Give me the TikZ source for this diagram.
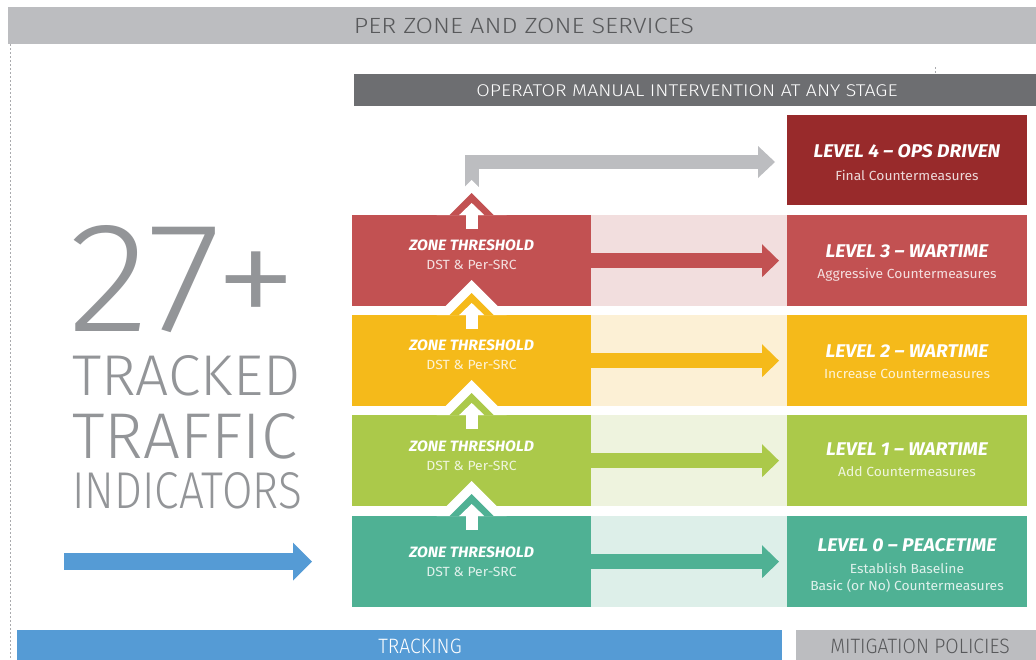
\documentclass[tikz,border=0pt]{standalone}
\usepackage{fontspec}
\setmainfont{Fira Sans}[FakeStretch=1.05]
\newfontfamily\lightfont{Fira Sans Light}[FakeStretch=1.15]
\newfontfamily\condfont{Fira Sans Light}[FakeStretch=0.93]
\usepackage{tikz}
\usetikzlibrary{positioning,arrows.meta}

\definecolor{bargray}{HTML}{BCBDC0}
\definecolor{textgray}{HTML}{58595B}
\definecolor{opgray}{HTML}{6D6E71}
\definecolor{numgray}{HTML}{939598}
\definecolor{lvfour}{HTML}{982A2B}
\definecolor{lvthree}{HTML}{C25152}
\definecolor{lvthreel}{HTML}{F2DEDE}
\definecolor{lvtwo}{HTML}{F5BA1A}
\definecolor{lvtwol}{HTML}{FCF0D5}
\definecolor{lvone}{HTML}{ABC94A}
\definecolor{lvonel}{HTML}{EEF3DE}
\definecolor{lvzero}{HTML}{4FB194}
\definecolor{lvzerol}{HTML}{DDEFE9}
\definecolor{trackblue}{HTML}{559BD5}

\tikzset{
	box/.style={draw=none, anchor=north west, inner sep=0pt, minimum height=91pt},
	zonebox/.style={box, minimum width=239pt},
	band/.style={box, minimum width=196pt},
	levelbox/.style={box, minimum width=240pt},
	bar/.style={draw=none, anchor=north west, inner sep=0pt},
	zonetitle/.style={text=white, inner sep=0pt, font=\fontsize{15}{15}\selectfont\bfseries\itshape},
	zonesub/.style={text=white, text opacity=0.82, inner sep=0pt, font=\fontsize{13.3}{13.3}\selectfont},
	leveltitle/.style={text=white, inner sep=0pt, font=\fontsize{18.4}{18.4}\selectfont\bfseries\itshape},
	levelsub/.style={text=white, text opacity=0.82, inner sep=0pt, font=\fontsize{13.2}{13.2}\selectfont},
	bartext/.style={inner sep=0pt, font=\condfont\fontsize{20.8}{20.8}\selectfont},
	bignum/.style={anchor=north west, inner sep=0pt, text=numgray, font=\lightfont},
	rowarrow/.style={line width=15pt, -{Triangle[length=17pt, width=33pt, line width=0pt]}},
	uparrow/.style={draw=white, line width=12pt, -{Triangle[length=12pt, width=25pt, line width=0pt]}}
}

\begin{document}
\begin{tikzpicture}[x=1pt, y=-1pt]
	\useasboundingbox (0,0) rectangle (1036,659);

	\node [bar, fill=bargray, minimum width=1028pt, minimum height=37pt] (top) at (8,7) {};
	\node [bartext, text=textgray, font=\lightfont\fontsize{22}{22}\selectfont] (topt) at (524,26) {PER ZONE AND ZONE SERVICES};
	\node [bar, fill=opgray, minimum width=682pt, minimum height=32pt] (ops) at (354,74) {};
	\node [bartext, text=white, font=\lightfont\fontsize{17}{17}\selectfont] (opst) at (687,90.5) {OPERATOR MANUAL INTERVENTION AT ANY STAGE};
	\node [bar, fill=trackblue, minimum width=765pt, minimum height=30pt] (trk) at (17,630) {};
	\node [bartext, text=white] (trkt) at (420,646) {TRACKING};
	\node [bar, fill=bargray, minimum width=240pt, minimum height=30pt] (mit) at (796,630) {};
	\node [bartext, text=textgray] (mitt) at (920,646) {MITIGATION POLICIES};

	\draw [numgray!80, line width=0.8pt, dash pattern=on 2pt off 2pt] (10,44) -- (10,659);
	\draw [numgray!80, line width=0.8pt, dash pattern=on 2pt off 2pt] (935,67) -- (935,74);

	\node [bignum] (num) at (68,225) {\resizebox{229pt}{106pt}{27+}};
	\node [bignum] (trk1) at (72,355) {\resizebox{228pt}{40pt}{TRACKED}};
	\node [bignum] (trk2) at (72,413) {\resizebox{225pt}{45pt}{TRAFFIC}};
	\node [bignum] (trk3) at (72,472) {\resizebox{230pt}{36pt}{INDICATORS}};

	\node [levelbox, fill=lvfour, minimum height=90pt] (L4) at (787,115) {};
	\node [zonebox, fill=lvthree] (Z3) at (352,215) {};
	\node [band, fill=lvthreel] (B3) at (591,215) {};
	\node [levelbox, fill=lvthree] (L3) at (787,215) {};
	\node [zonebox, fill=lvtwo] (Z2) at (352,315) {};
	\node [band, fill=lvtwol] (B2) at (591,315) {};
	\node [levelbox, fill=lvtwo] (L2) at (787,315) {};
	\node [zonebox, fill=lvone] (Z1) at (352,415) {};
	\node [band, fill=lvonel] (B1) at (591,415) {};
	\node [levelbox, fill=lvone] (L1) at (787,415) {};
	\node [zonebox, fill=lvzero] (Z0) at (352,516) {};
	\node [band, fill=lvzerol] (B0) at (591,516) {};
	\node [levelbox, fill=lvzero] (L0) at (787,516) {};

	\coordinate (G0) at (471.5,196);
	\coordinate (G1) at (775,162);
	\path [draw=bargray, line join=miter, line width=14pt, -{Triangle[length=17pt, width=32pt, line width=0pt]}] (G0) |- (G1);

	\fill [white] ([xshift=-35pt]Z3.north) -- ([yshift=35pt]Z3.north) -- ([xshift=35pt]Z3.north) -- cycle;
	\fill [lvthree] ([xshift=-22pt]Z3.north) -- ([yshift=22pt]Z3.north) -- ([xshift=22pt]Z3.north) -- cycle;
	\fill [white] ([xshift=-35pt]Z2.north) -- ([yshift=35pt]Z2.north) -- ([xshift=35pt]Z2.north) -- cycle;
	\fill [lvtwo] ([xshift=-22pt]Z2.north) -- ([yshift=22pt]Z2.north) -- ([xshift=22pt]Z2.north) -- cycle;
	\fill [white] ([xshift=-35pt]Z1.north) -- ([yshift=35pt]Z1.north) -- ([xshift=35pt]Z1.north) -- cycle;
	\fill [lvone] ([xshift=-22pt]Z1.north) -- ([yshift=22pt]Z1.north) -- ([xshift=22pt]Z1.north) -- cycle;
	\fill [white] ([xshift=-35pt]Z0.north) -- ([yshift=35pt]Z0.north) -- ([xshift=35pt]Z0.north) -- cycle;
	\fill [lvzero] ([xshift=-22pt]Z0.north) -- ([yshift=22pt]Z0.north) -- ([xshift=22pt]Z0.north) -- cycle;

	\path [uparrow] ([yshift=-14pt]Z3.north) -- ([yshift=12pt]Z3.north);
	\path [uparrow] ([yshift=-14pt]Z2.north) -- ([yshift=12pt]Z2.north);
	\path [uparrow] ([yshift=-14pt]Z1.north) -- ([yshift=12pt]Z1.north);
	\path [uparrow] ([yshift=-14pt]Z0.north) -- ([yshift=12pt]Z0.north);

	\path [draw=lvthree, rowarrow] (Z3.east) -- ([xshift=-8pt]L3.west);
	\path [draw=lvtwo, rowarrow] (Z2.east) -- ([xshift=-8pt]L2.west);
	\path [draw=lvone, rowarrow] (Z1.east) -- ([xshift=-8pt]L1.west);
	\path [draw=lvzero, rowarrow] (Z0.east) -- ([xshift=-8pt]L0.west);

	\coordinate (T0) at (64,561.5);
	\coordinate (T1) at (312,561.5);
	\path [draw=trackblue, line width=17pt, -{Triangle[length=19pt, width=38pt, line width=0pt]}] (T0) -- (T1);

	\node [zonetitle] (Z3a) at (471.5,245) {ZONE THRESHOLD};
	\node [zonesub] (Z3b) at (471.5,265) {DST \& Per-SRC};
	\node [zonetitle] (Z2a) at (471.5,345) {ZONE THRESHOLD};
	\node [zonesub] (Z2b) at (471.5,365) {DST \& Per-SRC};
	\node [zonetitle] (Z1a) at (471.5,446) {ZONE THRESHOLD};
	\node [zonesub] (Z1b) at (471.5,466) {DST \& Per-SRC};
	\node [zonetitle] (Z0a) at (471.5,552) {ZONE THRESHOLD};
	\node [zonesub] (Z0b) at (471.5,572) {DST \& Per-SRC};

	\node [leveltitle] (L4a) at (907,151) {LEVEL 4 -- OPS DRIVEN};
	\node [levelsub] (L4b) at (907,175.5) {Final Countermeasures};
	\node [leveltitle] (L3a) at (907,251) {LEVEL 3 -- WARTIME};
	\node [levelsub] (L3b) at (907,275) {Aggressive Countermeasures};
	\node [leveltitle] (L2a) at (907,351.5) {LEVEL 2 -- WARTIME};
	\node [levelsub] (L2b) at (907,374) {Increase Countermeasures};
	\node [leveltitle] (L1a) at (907,449) {LEVEL 1 -- WARTIME};
	\node [levelsub] (L1b) at (907,471.5) {Add Countermeasures};
	\node [leveltitle] (L0a) at (907,545.5) {LEVEL 0 -- PEACETIME};
	\node [levelsub] (L0b) at (907,568) {Establish Baseline};
	\node [levelsub] (L0c) at (907,586) {Basic (or No) Countermeasures};

\end{tikzpicture}
\end{document}
